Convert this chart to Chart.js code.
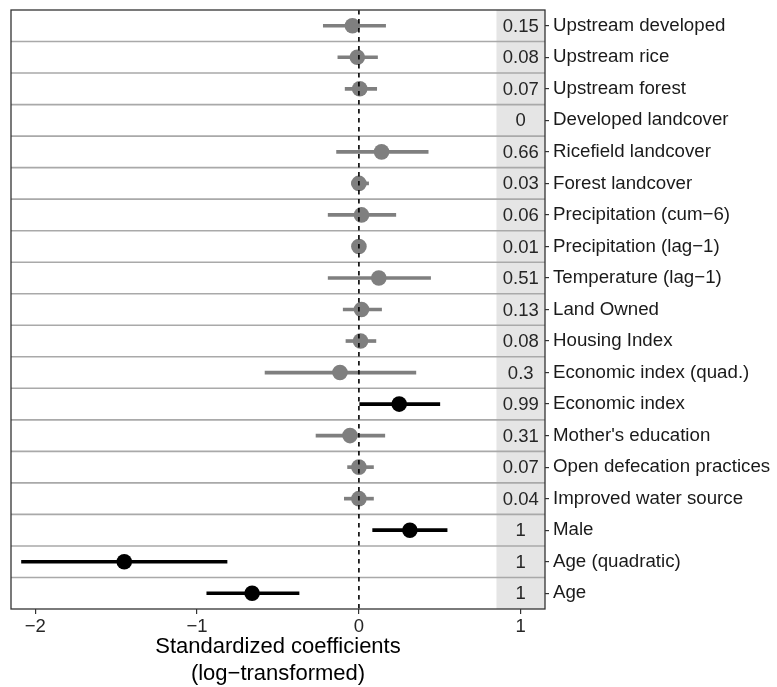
<!DOCTYPE html>
<html>
<head>
<meta charset="utf-8">
<script src="https://cdn.jsdelivr.net/npm/chart.js@4.4.1/dist/chart.umd.min.js"></script>
<style>
    html, body { margin: 0; padding: 0; background: #fff; }
    #wrap { width: 777px; height: 687px; position: relative; }
</style>
</head>
<body>
<div id="wrap"><canvas id="forest"></canvas></div>
<script>
/* ── Data ── */
const labels = [
    'Upstream developed', 'Upstream rice', 'Upstream forest', 'Developed landcover',
    'Ricefield landcover', 'Forest landcover', 'Precipitation (cum\u22126)', 'Precipitation (lag\u22121)',
    'Temperature (lag\u22121)', 'Land Owned', 'Housing Index', 'Economic index (quad.)',
    'Economic index', "Mother's education", 'Open defecation practices', 'Improved water source',
    'Male', 'Age (quadratic)', 'Age'
];
const estimate = [-0.04, -0.01, 0.005, null, 0.14, 0.0, 0.016, 0.0, 0.123, 0.016, 0.01, -0.117, 0.249, -0.055, 0.0, 0.0, 0.315, -1.45, -0.66];
const lower    = [-0.22, -0.13, -0.085, null, -0.138, -0.045, -0.19, -0.01, -0.19, -0.097, -0.08, -0.58, 0.005, -0.265, -0.07, -0.09, 0.085, -2.085, -0.94];
const upper    = [0.165, 0.115, 0.11, null, 0.428, 0.06, 0.228, 0.01, 0.443, 0.14, 0.105, 0.352, 0.5, 0.16, 0.09, 0.09, 0.545, -0.815, -0.37];
const inclusion = ['0.15', '0.08', '0.07', '0', '0.66', '0.03', '0.06', '0.01', '0.51', '0.13', '0.08', '0.3', '0.99', '0.31', '0.07', '0.04', '1', '1', '1'];
const xTicks = [-2, -1, 0, 1];
const xRange = [-2.15, 1.15];
const bandRange = [0.85, 1.15];

const FONT = "'Liberation Sans', Arial, Helvetica, sans-serif";
const GREY = '#7f7f7f';
const colors = inclusion.map(p => parseFloat(p) >= 0.95 ? '#000000' : GREY);

/* ── Decorations: band, row separators, zero line, panel border ── */
const decor = {
    id: 'decor',
    beforeDatasetsDraw(chart) {
        const { ctx, chartArea: a, scales: { x, y } } = chart;
        ctx.save();
        // grey band for inclusion probabilities
        const bx0 = x.getPixelForValue(bandRange[0]);
        const bx1 = x.getPixelForValue(bandRange[1]);
        ctx.fillStyle = '#e5e5e5';
        ctx.fillRect(bx0, a.top, bx1 - bx0, a.bottom - a.top);
        // separators between rows
        ctx.strokeStyle = '#a9a9a9';
        ctx.lineWidth = 1.6;
        for (let i = 0; i < labels.length - 1; i++) {
            const yy = (y.getPixelForTick(i) + y.getPixelForTick(i + 1)) / 2;
            ctx.beginPath();
            ctx.moveTo(a.left, yy);
            ctx.lineTo(a.right, yy);
            ctx.stroke();
        }
        // inclusion values
        ctx.fillStyle = '#262626';
        ctx.font = `18.5px ${FONT}`;
        ctx.textAlign = 'center';
        ctx.textBaseline = 'middle';
        const tx = x.getPixelForValue(1);
        inclusion.forEach((t, i) => ctx.fillText(t, tx, y.getPixelForTick(i) + 1));
        ctx.restore();
    },
    afterDatasetsDraw(chart) {
        const { ctx, chartArea: a, scales: { x } } = chart;
        ctx.save();
        const x0 = x.getPixelForValue(0);
        ctx.strokeStyle = '#000';
        ctx.lineWidth = 1.6;
        ctx.setLineDash([4.5, 4.5]);
        ctx.beginPath();
        ctx.moveTo(x0, a.top);
        ctx.lineTo(x0, a.bottom);
        ctx.stroke();
        ctx.setLineDash([]);
        ctx.strokeStyle = '#333';
        ctx.lineWidth = 1.3;
        ctx.strokeRect(a.left, a.top, a.right - a.left, a.bottom - a.top);
        ctx.restore();
    }
};

new Chart(document.getElementById('forest'), {
    type: 'bar',
    data: {
        labels: labels,
        datasets: [
            {
                type: 'line',
                indexAxis: 'y',
                data: estimate,
                showLine: false,
                pointRadius: 7.8,
                pointHoverRadius: 7.8,
                pointBorderWidth: 0,
                pointBackgroundColor: colors,
                order: 0
            },
            {
                type: 'bar',
                indexAxis: 'y',
                data: lower.map((lo, i) => lo === null ? null : [lo, upper[i]]),
                backgroundColor: colors,
                barThickness: 3,
                borderWidth: 0,
                borderSkipped: false,
                order: 1
            }
        ]
    },
    options: {
        indexAxis: 'y',
        responsive: true,
        maintainAspectRatio: false,
        animation: false,
        layout: { padding: { left: 11, top: 10, right: 0, bottom: 0 } },
        plugins: { legend: { display: false }, tooltip: { enabled: false } },
        scales: {
            x: {
                type: 'linear',
                min: xRange[0], max: xRange[1],
                afterBuildTicks: s => { s.ticks = xTicks.map(v => ({ value: v })); },
                afterFit: s => { s.height = 78; s.paddingLeft = 0; s.paddingRight = 0; },
                grid: { display: true, drawOnChartArea: false, drawTicks: true, tickLength: 5, color: '#333', lineWidth: 1.2 },
                border: { display: false },
                ticks: {
                    padding: 2,
                    color: '#262626',
                    font: { family: FONT, size: 18.5 },
                    callback: v => (v < 0 ? '\u2212' + Math.abs(v) : String(v))
                },
                title: {
                    display: true,
                    text: ['Standardized coefficients', '(log\u2212transformed)'],
                    color: '#000',
                    font: { family: FONT, size: 22, lineHeight: 1.2 },
                    padding: { top: 0, bottom: 0 }
                }
            },
            y: {
                type: 'category',
                position: 'right',
                offset: true,
                afterFit: s => { s.width = 232; s.paddingTop = 0; s.paddingBottom = 0; },
                grid: { display: true, offset: false, drawOnChartArea: false, drawTicks: true, tickLength: 4, color: '#333', lineWidth: 1.2 },
                border: { display: false },
                ticks: {
                    padding: 4,
                    color: '#1a1a1a',
                    font: { family: FONT, size: 18.7 },
                    autoSkip: false
                }
            }
        }
    },
    plugins: [decor]
});
</script>
</body>
</html>
